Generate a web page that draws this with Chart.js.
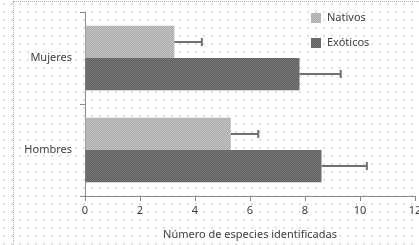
<!DOCTYPE html>
<html>
<head>
<meta charset="utf-8">
<script src="https://cdn.jsdelivr.net/npm/chart.js@4.4.0/dist/chart.umd.min.js"></script>
<style>
    html, body { margin: 0; padding: 0; background: #fff; }
    #wrap {
        position: relative; width: 419px; height: 245px;
        background-image: radial-gradient(circle, #f3d6e4 0.8px, transparent 1.1px);
        background-size: 8px 8px;
    }
    #frame {
        position: absolute; left: 13px; top: 1px; right: 0; bottom: 0;
        border-left: 1px dotted #b8b0b4; border-top: 1px dotted #b8b0b4;
    }
    canvas { position: absolute; left: 0; top: 0; }
</style>
</head>
<body>
<div id="wrap">
    <div id="frame"></div>
    <canvas id="chart" width="419" height="245"></canvas>
</div>
<script>
    'use strict';

    var categories = ['Mujeres', 'Hombres'];
    var nativos = [3.25, 5.3];
    var nativosErr = [1.0, 1.0];
    var exoticos = [7.8, 8.6];
    var exoticosErr = [1.5, 1.65];
    var xTicks = [0, 2, 4, 6, 8, 10, 12];
    var axisTitle = 'Número de especies identificadas';

    var FONT = '"Noto Sans", "Open Sans", sans-serif';

    // small checker texture, like the printed bars
    function makePattern(c1, c2) {
        var p = document.createElement('canvas');
        p.width = 2; p.height = 2;
        var ctx = p.getContext('2d');
        ctx.fillStyle = c1; ctx.fillRect(0, 0, 2, 2);
        ctx.fillStyle = c2; ctx.fillRect(0, 0, 1, 1); ctx.fillRect(1, 1, 1, 1);
        return document.getElementById('chart').getContext('2d').createPattern(p, 'repeat');
    }

    var lightFill = makePattern('#a8a8a8', '#c6c6c6');
    var darkFill = makePattern('#5e5e5e', '#7a7a7a');

    var errorBars = {
        id: 'errorBars',
        afterDatasetsDraw: function (chart) {
            var ctx = chart.ctx;
            var xs = chart.scales.x;
            ctx.save();
            ctx.strokeStyle = '#707070';
            ctx.lineWidth = 2;
            chart.data.datasets.forEach(function (ds, i) {
                var meta = chart.getDatasetMeta(i);
                meta.data.forEach(function (bar, j) {
                    var x0 = bar.x;
                    var x1 = xs.getPixelForValue(ds.data[j] + ds.errors[j]);
                    ctx.beginPath();
                    ctx.moveTo(x0, bar.y);
                    ctx.lineTo(x1, bar.y);
                    ctx.moveTo(x1, bar.y - 4);
                    ctx.lineTo(x1, bar.y + 4);
                    ctx.stroke();
                });
            });
            ctx.restore();
        }
    };

    var sideLegend = {
        id: 'sideLegend',
        afterDraw: function (chart) {
            var ctx = chart.ctx;
            ctx.save();
            ctx.font = '11px ' + FONT;
            ctx.textBaseline = 'middle';
            chart.data.datasets.forEach(function (ds, i) {
                var y = 18 + i * 25;
                ctx.fillStyle = ds.backgroundColor;
                ctx.fillRect(311, y - 5, 10, 10);
                ctx.fillStyle = '#404040';
                ctx.fillText(ds.label, 327, y);
            });
            ctx.restore();
        }
    };

    new Chart(document.getElementById('chart'), {
        type: 'bar',
        data: {
            labels: categories,
            datasets: [
                { label: 'Nativos', data: nativos, errors: nativosErr, backgroundColor: lightFill },
                { label: 'Exóticos', data: exoticos, errors: exoticosErr, backgroundColor: darkFill }
            ]
        },
        options: {
            indexAxis: 'y',
            responsive: false,
            animation: false,
            layout: { padding: { top: 12, right: 4, left: 0, bottom: 4 } },
            datasets: { bar: { barPercentage: 1.0, categoryPercentage: 0.7 } },
            plugins: {
                legend: { display: false },
                tooltip: { enabled: false }
            },
            scales: {
                x: {
                    min: 0, max: 12,
                    afterBuildTicks: function (scale) {
                        scale.ticks = xTicks.map(function (v) { return { value: v }; });
                    },
                    grid: { drawOnChartArea: false, tickLength: 5, color: '#8c8c8c' },
                    border: { color: '#8c8c8c', width: 1 },
                    ticks: { color: '#404040', font: { family: FONT, size: 11 }, padding: 3, maxRotation: 0 },
                    title: { display: true, text: axisTitle, color: '#404040', font: { family: FONT, size: 11 }, padding: { top: 2, bottom: 0 } },
                    afterFit: function (scale) {
                        scale.height = 45;
                        scale.paddingLeft = 0;
                        scale.paddingRight = 0;
                    }
                },
                y: {
                    grid: { drawOnChartArea: false, tickLength: 5, color: '#8c8c8c', offset: true },
                    border: { color: '#8c8c8c', width: 1 },
                    ticks: { color: '#404040', font: { family: FONT, size: 11 }, padding: 8 },
                    afterFit: function (scale) {
                        scale.width = 85;
                        scale.paddingTop = 0;
                        scale.paddingBottom = 0;
                    }
                }
            }
        },
        plugins: [errorBars, sideLegend]
    });
</script>
</body>
</html>
